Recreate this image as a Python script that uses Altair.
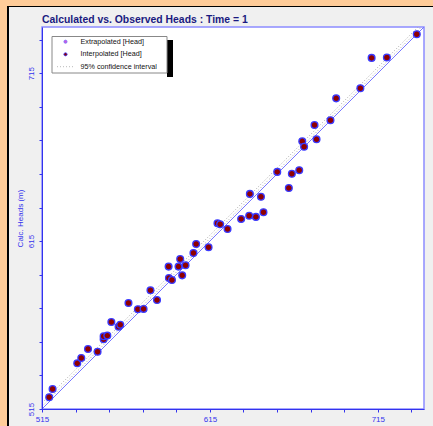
import altair as alt
import pandas as pd

# ---- data ----
observed = [519.3, 521.3, 536.0, 538.4, 542.4, 548.1, 551.7, 551.7, 553.9, 556.3,
            560.6, 561.6, 566.5, 572.1, 575.5, 579.6, 583.5, 590.4, 590.6, 592.4,
            596.3, 597.3, 598.5, 600.5, 605.2, 606.8, 614.2, 619.5, 621.1, 625.5,
            633.6, 638.4, 638.8, 642.4, 645.4, 646.9, 655.1, 662.0, 663.8, 668.2,
            670.0, 671.1, 677.3, 678.5, 686.8, 690.2, 704.6, 711.3, 720.4, 738.2]
calculated = [522.0, 526.9, 542.2, 545.4, 550.7, 549.1, 556.5, 558.3, 558.7, 566.8,
              564.0, 565.2, 578.1, 574.4, 574.6, 585.7, 579.9, 599.8, 593.0, 591.8,
              599.8, 604.3, 594.6, 600.6, 607.9, 613.3, 611.3, 625.6, 625.0, 622.2,
              628.2, 630.1, 643.1, 629.4, 641.4, 632.2, 656.2, 646.6, 655.1, 657.2,
              674.4, 671.2, 684.1, 675.6, 687.0, 700.0, 706.0, 724.1, 724.3, 738.2]

axis_min = 515
axis_max = 742.5
tick_values = [515, 535, 555, 575, 595, 615, 635, 655, 675, 695, 715, 735]
ci_offsets = [1.5, 3.5]
legend_labels = ["Extrapolated [Head]", "Interpolated [Head]", "95% confidence interval"]
title_text = "Calculated vs. Observed Heads : Time = 1"
y_title = "Calc. Heads (m)"

FONT = "Liberation Sans"
BLUE = "#3333ee"

points = pd.DataFrame({"obs": observed, "calc": calculated})
one_to_one = pd.DataFrame({"obs": [axis_min, axis_max], "calc": [axis_min, axis_max]})
ci_rows = []
for k, off in enumerate(ci_offsets):
    ci_rows.append({"obs": axis_min, "calc": axis_min + off, "k": k})
    ci_rows.append({"obs": axis_max - off, "calc": axis_max, "k": k})
ci = pd.DataFrame(ci_rows)

sc = alt.Scale(domain=[axis_min, axis_max], nice=False, zero=False)
label_expr = "(datum.value - 515) % 100 == 0 ? datum.label : ''"

x_axis = alt.Axis(values=tick_values, labelExpr=label_expr, title=None, format="d",
                  tickSize=3, labelFontSize=8, labelColor=BLUE, labelFont=FONT,
                  domainColor=BLUE, tickColor=BLUE, grid=False, labelPadding=3,
                  labelFlush=False, labelOverlap=False, zindex=1)
y_axis = alt.Axis(values=tick_values, labelExpr=label_expr, title=y_title, format="d",
                  tickSize=3, labelFontSize=8, labelColor=BLUE, labelFont=FONT,
                  domainColor=BLUE, tickColor=BLUE, grid=False, labelPadding=4,
                  labelAngle=270, labelAlign="center", labelBaseline="bottom",
                  labelFlush=False, labelOverlap=False,
                  titleFontSize=8, titleColor=BLUE, titleFont=FONT,
                  titleFontWeight="normal", titlePadding=3, zindex=1)

X = lambda f="obs": alt.X(f"{f}:Q", scale=sc, axis=x_axis)
Y = lambda f="calc": alt.Y(f"{f}:Q", scale=sc, axis=y_axis)

# outer decoration (frame of the window)
deco = pd.DataFrame({"d": [0]})
orange_top = alt.Chart(deco).mark_rect(color="#FFCC99", clip=False).encode(
    x=alt.value(-42), x2=alt.value(391), y=alt.value(-27), y2=alt.value(-21))
orange_left = alt.Chart(deco).mark_rect(color="#FFCC99", clip=False).encode(
    x=alt.value(-42), x2=alt.value(-35), y=alt.value(-27), y2=alt.value(399))
black_left = alt.Chart(deco).mark_rect(color="#000000", clip=False).encode(
    x=alt.value(-35), x2=alt.value(-33), y=alt.value(-21), y2=alt.value(399))
black_top = alt.Chart(deco).mark_rect(color="#000000", clip=False).encode(
    x=alt.value(-35), x2=alt.value(391), y=alt.value(-21), y2=alt.value(-20))

title = alt.Chart(pd.DataFrame({"t": [title_text]})).mark_text(
    align="left", baseline="alphabetic", fontSize=10.4, fontWeight="bold", font=FONT,
    color="#1a1a80", clip=False).encode(x=alt.value(0), y=alt.value(-4), text="t:N")

ci_lines = alt.Chart(ci).mark_line(color="#aaaaaa", strokeDash=[1, 2], strokeWidth=1).encode(
    x=X(), y=Y(), detail="k:N")
diag = alt.Chart(one_to_one).mark_line(color="#7777ff", strokeWidth=1).encode(x=X(), y=Y())
pts = alt.Chart(points).mark_point(filled=True, shape="circle", size=46, fill="#8f0000",
                                   stroke="#3a3aff", strokeWidth=1.3, opacity=1).encode(
    x=X(), y=Y())

# legend box (drawn by hand to mimic the original framed legend)
leg_shadow_r = alt.Chart(deco).mark_rect(color="#000000").encode(
    x=alt.value(125), x2=alt.value(131), y=alt.value(13), y2=alt.value(50))
leg_box = alt.Chart(deco).mark_rect(fill="white", stroke="#888888", strokeWidth=1).encode(
    x=alt.value(10), x2=alt.value(125), y=alt.value(9.5), y2=alt.value(46))
row_y = [14.7, 27.3, 39.7]
leg_layers = [leg_shadow_r, leg_box]
leg_layers.append(alt.Chart(deco).mark_point(filled=True, shape="circle", size=10,
                                             fill="#cc55dd", stroke="#7777ff", strokeWidth=0.8,
                                             opacity=1).encode(
    x=alt.value(23.5), y=alt.value(row_y[0])))
leg_layers.append(alt.Chart(deco).mark_point(filled=True, shape="circle", size=10,
                                             fill="#8f0000", stroke="#3a3aff", strokeWidth=0.8,
                                             opacity=1).encode(
    x=alt.value(23.5), y=alt.value(row_y[1])))
leg_layers.append(alt.Chart(deco).mark_rule(color="#bbbbbb", strokeDash=[1, 2]).encode(
    x=alt.value(15), x2=alt.value(33), y=alt.value(row_y[2])))
for lab, yy in zip(legend_labels, row_y):
    leg_layers.append(alt.Chart(pd.DataFrame({"t": [lab]})).mark_text(
        align="left", baseline="middle", fontSize=7.2, font=FONT, color="#111111").encode(
        x=alt.value(38.5), y=alt.value(yy), text="t:N"))

chart = alt.layer(orange_top, orange_left, black_left, black_top, title,
                  ci_lines, diag, pts, *leg_layers).properties(
    width=382, height=382,
    background="#F0F0F0",
    padding={"left": 42, "top": 27, "right": 9, "bottom": 17},
    autosize=alt.AutoSizeParams(type="none"),
).configure_view(fill="white", stroke="#8c8cff", strokeWidth=1.5)

chart.save("out.html", embed_options={"renderer": "svg", "actions": False})
